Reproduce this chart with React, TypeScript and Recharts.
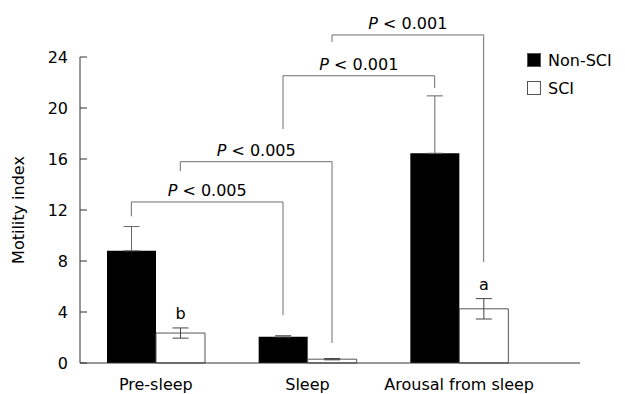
import React from "react";
import {
  BarChart,
  Bar,
  XAxis,
  YAxis,
  ErrorBar,
  ReferenceLine,
  LabelList,
} from "recharts";

const categories = ["Pre-sleep", "Sleep", "Arousal from sleep"];
const nonSci = [8.8, 2.05, 16.45];
const nonSciErr = [1.9, 0.1, 4.5];
const sci = [2.35, 0.3, 4.25];
const sciErr = [0.4, 0.05, 0.8];
const sciMarks = ["b", "", "a"];
const yTicks = [0, 4, 8, 12, 16, 20, 24];
const legendItems = [
  { label: "Non-SCI", fill: "#000" },
  { label: "SCI", fill: "#fff" },
];

// significance brackets: group index + series at each end, heights in data units
const bracketFrom = [
  [0, "nonSci"],
  [0, "sci"],
  [1, "nonSci"],
  [1, "sci"],
];
const bracketTo = [
  [1, "nonSci"],
  [1, "sci"],
  [2, "nonSci"],
  [2, "sci"],
];
const bracketTop = [12.63, 15.79, 22.53, 25.73];
const bracketFromEnd = [11.5, 15.05, 18.35, 25.18];
const bracketToEnd = [3.75, 1.57, 21.57, 7.92];
const bracketP = ["0.005", "0.005", "0.001", "0.001"];

const data = categories.map((name, i) => ({
  name,
  pos: i,
  nonSci: nonSci[i],
  // only the upper half shows above the black bar
  nonSciErr: [0, nonSciErr[i]],
  sci: sci[i],
  sciErr: sciErr[i],
}));

const W = 625;
const H = 394;
const BAR = 49;
const PAD_RIGHT = 45;
const PLOT_W = 500;
const BAND = (PLOT_W - PAD_RIGHT) / categories.length;
const OFF = BAR / 2 / BAND;

const font = "DejaVu Sans, Verdana, sans-serif";
const lineColor = "#6e6e6e";

const xPos = (g: number, s: string) => g + (s === "sci" ? OFF : -OFF);

const PLabel = (props: any) => {
  const vb = props.viewBox || {};
  const cx = vb.x + (vb.width || 0) / 2;
  const y = vb.y - 6;
  return (
    <text x={cx} y={y} textAnchor="middle" fontSize={16} fontFamily={font} fill="#000">
      <tspan fontStyle="italic">P</tspan>
      <tspan>{` < ${props.p}`}</tspan>
    </text>
  );
};

const MarkLabel = (props: any) => {
  const { x, y, width, height, value, index } = props;
  const mark = sciMarks[index];
  if (!mark) return null;
  const perUnit = value ? height / value : 0;
  const top = y - sciErr[index] * perUnit;
  return (
    <text x={x + width / 2} y={top - 9} textAnchor="middle" fontSize={16} fontFamily={font} fill="#000">
      {mark}
    </text>
  );
};

function LegendBox() {
  return (
    <div
      style={{
        position: "absolute",
        left: 527,
        top: 46,
        fontFamily: font,
        fontSize: 16,
        color: "#000",
      }}
    >
      {legendItems.map((it) => (
        <div key={it.label} style={{ display: "flex", alignItems: "center", height: 28 }}>
          <span
            style={{
              display: "inline-block",
              width: 12,
              height: 12,
              background: it.fill,
              border: "1px solid #555",
              marginRight: 7,
            }}
          />
          <span>{it.label}</span>
        </div>
      ))}
    </div>
  );
}

export default function App() {
  return (
    <div style={{ position: "absolute", left: 0, top: 0, width: W, height: H, background: "#fff" }}>
      <BarChart
        width={W}
        height={H}
        data={data}
        margin={{ top: 57, right: 45, bottom: 0, left: 0 }}
        barGap={0}
        barSize={BAR}
        style={{ fontFamily: font }}
      >
        <XAxis
          dataKey="name"
          height={31}
          padding={{ left: 0, right: PAD_RIGHT }}
          tickLine={false}
          axisLine={{ stroke: "#333" }}
          tick={{ fill: "#000", fontSize: 16, fontFamily: font }}
          tickMargin={10}
          interval={0}
        />
        <XAxis
          xAxisId="pos"
          dataKey="pos"
          type="number"
          domain={[0, categories.length - 1]}
          padding={{ left: BAND / 2, right: PAD_RIGHT + BAND / 2 }}
          allowDataOverflow
          hide
        />
        <YAxis
          width={80}
          domain={[0, 24]}
          ticks={yTicks}
          interval={0}
          axisLine={{ stroke: "#333" }}
          tickLine={{ stroke: "#333" }}
          tickSize={-7}
          tickMargin={19}
          tick={{ fill: "#000", fontSize: 16, fontFamily: font }}
          label={(p: any) => {
            const vb = p.viewBox || {};
            const cy = vb.y + vb.height / 2;
            return (
              <text
                x={18}
                y={cy}
                transform={`rotate(-90 18 ${cy})`}
                textAnchor="middle"
                dominantBaseline="central"
                fontSize={16}
                fontFamily={font}
                fill="#000"
              >
                Motility index
              </text>
            );
          }}
        />
        <Bar dataKey="nonSci" name="Non-SCI" fill="#000" isAnimationActive={false}>
          <ErrorBar dataKey="nonSciErr" width={8} stroke="#666" strokeWidth={1} />
        </Bar>
        <Bar dataKey="sci" name="SCI" fill="#fff" stroke="#555" strokeWidth={1} isAnimationActive={false}>
          <ErrorBar dataKey="sciErr" width={8} stroke="#444" strokeWidth={1} />
          <LabelList dataKey="sci" content={<MarkLabel />} />
        </Bar>
        {bracketTop.map((top, i) => {
          const x1 = xPos(bracketFrom[i][0] as number, bracketFrom[i][1] as string);
          const x2 = xPos(bracketTo[i][0] as number, bracketTo[i][1] as string);
          return (
            <React.Fragment key={i}>
              <ReferenceLine
                xAxisId="pos"
                ifOverflow="visible"
                stroke={lineColor}
                segment={[
                  { x: x1, y: bracketFromEnd[i] },
                  { x: x1, y: top },
                ]}
              />
              <ReferenceLine
                xAxisId="pos"
                ifOverflow="visible"
                stroke={lineColor}
                segment={[
                  { x: x1, y: top },
                  { x: x2, y: top },
                ]}
                label={<PLabel p={bracketP[i]} />}
              />
              <ReferenceLine
                xAxisId="pos"
                ifOverflow="visible"
                stroke={lineColor}
                segment={[
                  { x: x2, y: top },
                  { x: x2, y: bracketToEnd[i] },
                ]}
              />
            </React.Fragment>
          );
        })}
      </BarChart>
      <LegendBox />
    </div>
  );
}
